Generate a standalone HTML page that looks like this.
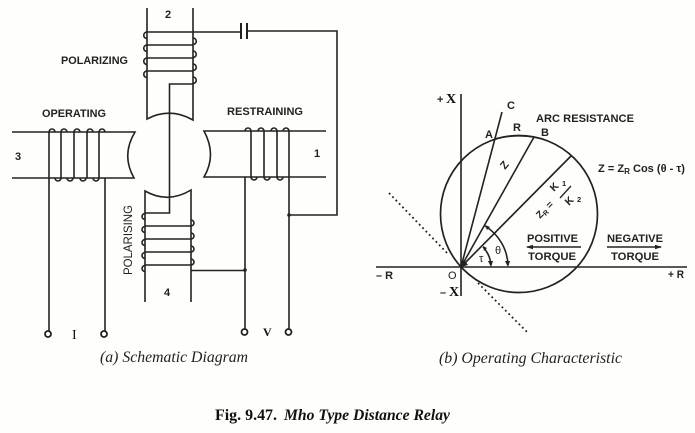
<!DOCTYPE html>
<html><head><meta charset="utf-8"><style>
html,body{margin:0;padding:0;background:#fff}
svg{display:block}
text{font-family:"Liberation Sans",sans-serif;font-size:11px;font-weight:bold;fill:#222}
.s{font-family:"Liberation Serif",serif;font-style:italic;font-weight:normal;font-size:15.5px;fill:#222}
.b{font-family:"Liberation Serif",serif;font-weight:bold;font-size:15.5px;fill:#111}
.l{fill:none;stroke:#222;stroke-width:1.6}
</style></head><body>
<svg width="695" height="433" viewBox="0 0 695 433" xmlns="http://www.w3.org/2000/svg">
<rect width="695" height="433" fill="#fefefc"/>
<g class="l">
<!-- top core -->
<path d="M147 8V119Q170 107 193 120V8"/>
<path d="M147 32H241M248 31H337V215H289"/>
<path d="M241 23V39M247 23V39" stroke-width="2"/>
<path d="M147 45H193M147 58H193M147 71H193"/>
<path d="M147 32a3.2 3.2 0 1 0 0 6.5 M147 45a3.2 3.2 0 1 0 0 6.5 M147 58a3.2 3.2 0 1 0 0 6.5 M147 71a3.2 3.2 0 1 0 0 6.5"/>
<path d="M193 38a3.2 3.2 0 1 1 0 6.5 M193 51a3.2 3.2 0 1 1 0 6.5 M193 64a3.2 3.2 0 1 1 0 6.5 M193 77a3.2 3.2 0 1 1 0 6.5"/>
<path d="M193 84H169.500V213H145"/>
<!-- operating -->
<path d="M12 132H135Q121 155 134 178H12"/>
<path d="M49 132V331M61 132V178M74 132V178M87 132V178M99 132V178M105 178V331"/>
<path d="M49 132a3 3 0 0 1 6 0M61 132a3 3 0 0 1 6 0M74 132a3 3 0 0 1 6 0M87 132a3 3 0 0 1 6 0M99 132a3 3 0 0 1 6 0"/>
<path d="M55 178a3 3 0 0 0 6 0M67 178a3 3 0 0 0 6 0M80 178a3 3 0 0 0 6 0M93 178a3 3 0 0 0 6 0"/>
<circle cx="48" cy="334" r="3" stroke-width="1.800" fill="#fff"/>
<circle cx="104" cy="334" r="3" stroke-width="1.800" fill="#fff"/>
<!-- restraining -->
<path d="M326 131H204Q217 155 204 177H326"/>
<path d="M245 177V329M251 131V177M264 131V177M277 131V177M289 131V329"/>
<path d="M245 131a3 3 0 0 1 6 0M258 131a3 3 0 0 1 6 0M271 131a3 3 0 0 1 6 0M283 131a3 3 0 0 1 6 0"/>
<path d="M251 177a3 3 0 0 0 6 0M264 177a3 3 0 0 0 6 0M277 177a3 3 0 0 0 6 0"/>
<circle cx="244.500" cy="332" r="3" stroke-width="1.800" fill="#fff"/>
<circle cx="288.500" cy="332" r="3" stroke-width="1.800" fill="#fff"/>
<!-- bottom core -->
<path d="M145 302V191Q168 204 191 190V302"/>
<path d="M145 226H191M145 239H191M145 252H191M145 265H191"/>
<path d="M145 213.500a3 3 0 0 0 0 6M145 226.500a3 3 0 0 0 0 6M145 239.500a3 3 0 0 0 0 6M145 252.500a3 3 0 0 0 0 6M145 265.500a3 3 0 0 0 0 6"/>
<path d="M191 220a3 3 0 0 1 0 6M191 233a3 3 0 0 1 0 6M191 246a3 3 0 0 1 0 6M191 259a3 3 0 0 1 0 6"/>
<path d="M191 270.500H245"/>
<!-- characteristic -->
<circle cx="519" cy="214" r="78.500" stroke-width="1.700"/>
<path d="M461 94V296M376 267H687" stroke-width="1.600"/>
<path d="M461 267L502 112M461 267L534 137M461 267L571 156M494 139Q514 134 534 137"/>
<path d="M389 193L449 255M478 283L528 333" stroke-dasharray="1.800 3" stroke-width="1.800"/>
<path d="M485 226A48 48 0 0 1 508 265M483 247A30 30 0 0 1 491 265"/>
<path d="M527 247H581M607 247H661"/>
</g>
<g fill="#222">
<circle cx="245" cy="270" r="1.800"/><circle cx="289" cy="215" r="1.800"/>
<path d="M461 267l4-6 3 4zM483 246l1 5 3-3zM491 267l-3-6h5zM508 267l-3-6h5zM485 225l2 5 3-3z"/>
<path d="M526 247l7-2.200v4.400zM662 247l-7-2.200v4.400z"/>
</g>
<text x="61" y="64" textLength="67" lengthAdjust="spacingAndGlyphs">POLARIZING</text>
<text x="42" y="117" textLength="64" lengthAdjust="spacingAndGlyphs">OPERATING</text>
<text x="227" y="115" textLength="76" lengthAdjust="spacingAndGlyphs">RESTRAINING</text>
<text x="165" y="18">2</text>
<text x="15" y="160">3</text>
<text x="314" y="157">1</text>
<text x="164" y="296">4</text>
<text transform="translate(132 275) rotate(-90)" textLength="70" lengthAdjust="spacingAndGlyphs" style="font-weight:normal;font-size:11.500px">POLARISING</text>
<text x="72" y="339" class="b" style="font-weight:normal;font-size:14px">I</text>
<text x="263" y="336" class="b" style="font-size:12px">V</text>
<text class="s" x="100" y="362" textLength="148" lengthAdjust="spacingAndGlyphs">(a) Schematic Diagram</text>
<text class="s" x="439" y="363" textLength="183" lengthAdjust="spacingAndGlyphs">(b) Operating Characteristic</text>
<text class="b" x="215" y="420" textLength="62" lengthAdjust="spacingAndGlyphs">Fig. 9.47.</text>
<text class="b" x="284" y="420" style="font-style:italic" textLength="166" lengthAdjust="spacingAndGlyphs">Mho Type Distance Relay</text>
<text x="437" y="103">+</text><text x="446" y="103" class="b" style="font-size:14px">X</text>
<text x="507" y="109">C</text>
<text x="536" y="122" textLength="98" lengthAdjust="spacingAndGlyphs">ARC RESISTANCE</text>
<text x="485" y="138">A</text>
<text x="513" y="131">R</text>
<text x="541" y="136">B</text>
<text x="598" y="172" textLength="87" lengthAdjust="spacingAndGlyphs">Z = Z<tspan font-size="8" dy="2">R</tspan><tspan dy="-2"> Cos (θ - τ)</tspan></text>
<text transform="translate(505 170) rotate(-50)" style="font-size:11px">Z</text>
<text transform="translate(540 219) rotate(-45)" style="font-size:10px">Z<tspan font-size="7" dy="2">R</tspan><tspan dy="-2"> =</tspan></text>
<text transform="translate(554 192) rotate(-45)" style="font-size:10.500px">K</text>
<text x="562" y="186" style="font-size:7.500px">1</text>
<text transform="translate(569 206) rotate(-45)" style="font-size:10.500px">K</text>
<text x="577" y="202" style="font-size:7.500px">2</text>
<path d="M560 198L571 186" stroke="#222" stroke-width="1.300"/>
<text x="527" y="242" textLength="51" lengthAdjust="spacingAndGlyphs">POSITIVE</text>
<text x="528" y="260" textLength="48" lengthAdjust="spacingAndGlyphs">TORQUE</text>
<text x="607" y="242" textLength="56" lengthAdjust="spacingAndGlyphs">NEGATIVE</text>
<text x="611" y="260" textLength="48" lengthAdjust="spacingAndGlyphs">TORQUE</text>
<text x="495" y="254" style="font-weight:normal">θ</text>
<text x="479" y="262" style="font-weight:normal">τ</text>
<text x="376" y="279" textLength="17" lengthAdjust="spacingAndGlyphs">– R</text>
<text x="448" y="279" style="font-weight:normal">O</text>
<text x="440" y="296">–</text><text x="449" y="296" class="b" style="font-size:14px">X</text>
<text x="668" y="278" textLength="16" lengthAdjust="spacingAndGlyphs">+ R</text>
</svg>
</body></html>
